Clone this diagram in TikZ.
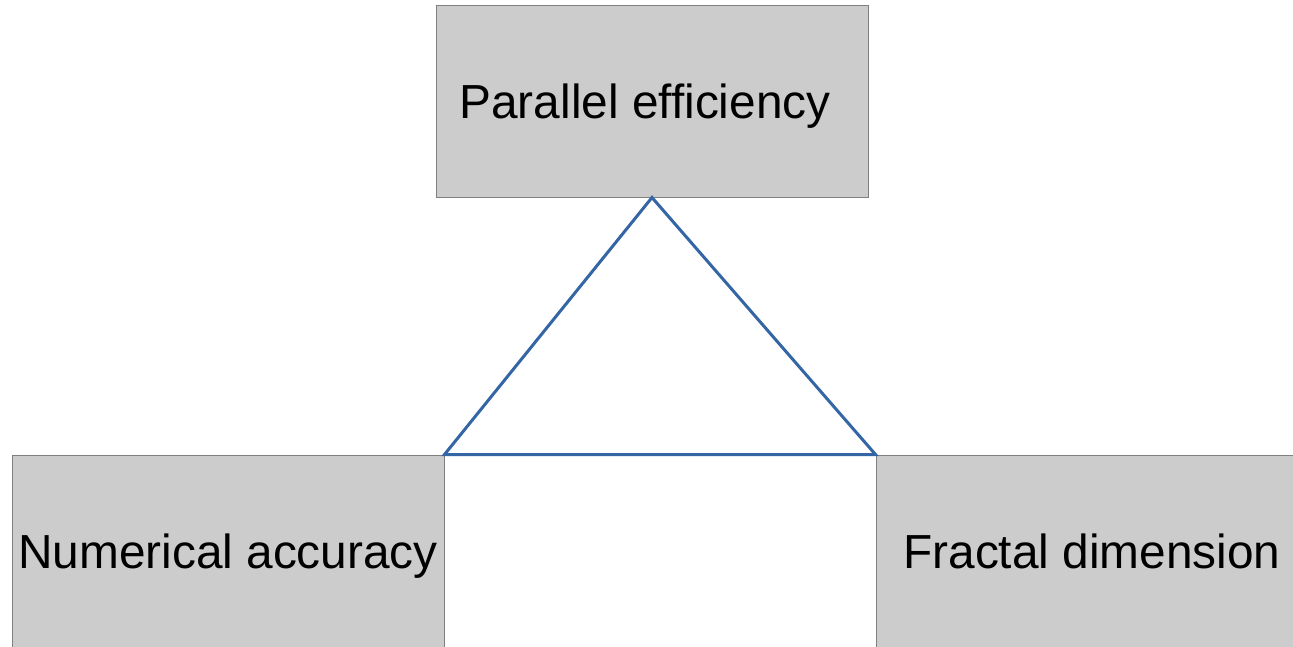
\documentclass[tikz,border=0pt]{standalone}
\usepackage{fontspec}
\setmainfont{Liberation Sans}
\definecolor{boxgray}{HTML}{CCCCCC}
\definecolor{edgegray}{HTML}{7F7F7F}
\definecolor{triblue}{HTML}{3465A4}
\begin{document}
\begin{tikzpicture}[x=1pt,y=-1pt,
  boxstyle/.style={draw=edgegray,fill=boxgray,line width=1pt,minimum width=432pt,minimum height=192pt,inner sep=0pt},
  labelstyle/.style={anchor=base,inner sep=0pt,font=\fontsize{47.8}{56}\selectfont},
  triline/.style={draw=triblue,line width=3pt,line join=miter}]
\useasboundingbox (0,0) rectangle (1293,646);
\clip (0,0) rectangle (1293,646);
\node[boxstyle] (pe) at (652,101) {};
\node[boxstyle] (na) at (228,551) {};
\node[boxstyle] (fd) at (1092,551) {};
\node[labelstyle] (pet) at (645,118) {Parallel efficiency};
\node[labelstyle] (nat) at (228,568) {Numerical accuracy};
\node[labelstyle] (fdt) at (1092,568) {Fractal dimension};
\draw[triline] (pe.south) -- (na.north east) -- (fd.north west) -- cycle;
\end{tikzpicture}
\end{document}
